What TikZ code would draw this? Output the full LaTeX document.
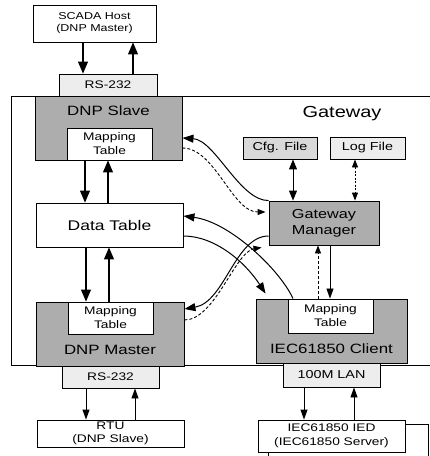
\documentclass[tikz,border=0pt]{standalone}
\usepackage{fontspec}
\setmainfont[FakeStretch=1.25]{Liberation Sans}
\usetikzlibrary{arrows.meta}
\definecolor{shade}{gray}{0.68}
\definecolor{light}{gray}{0.93}
\definecolor{cfgc}{gray}{0.85}
\newcommand{\fs}[2]{\fontsize{#1}{#2}\selectfont}
\begin{document}
\begin{tikzpicture}[x=1pt,y=-1pt,
  box/.style={draw, line width=0.9pt, inner sep=0pt, align=center},
  lbl/.style={inner sep=0pt, align=center},
  arr/.style={line width=1.1pt, -{Triangle[length=12pt,width=10pt]}},
  sarr/.style={line width=0.9pt, -{Triangle[length=10pt,width=7pt]}},
  darr/.style={line width=0.9pt, dash pattern=on 3pt off 2pt, -{Triangle[length=8pt,width=6pt]}},
  carr/.style={line width=1pt, -{Triangle[length=11pt,width=8pt]}}]
\useasboundingbox (0,0) rectangle (430,456);
% gateway frame
\draw[line width=1pt] (430,96) -- (11,96) -- (11,365) -- (430,365);
\node[lbl, font=\fs{16}{18}] (gwlabel) at (342,114) {Gateway};
% left column
\node[box, fill=white, minimum width=123pt, minimum height=37pt, font=\fs{10}{12}] (scada) at (94.5,23.5) {SCADA Host\\(DNP Master)};
\node[box, fill=light, minimum width=98pt, minimum height=22pt, font=\fs{11}{13}] (rs1) at (108,85) {RS-232};
\node[box, fill=shade, minimum width=147pt, minimum height=64pt] (slave) at (108.5,128) {};
\node[lbl, font=\fs{13.5}{15}] (slavelbl) at (108.5,111) {DNP Slave};
\node[box, fill=white, minimum width=85pt, minimum height=32pt, font=\fs{11}{14}] (map1) at (109.5,144) {Mapping\\Table};
\node[box, fill=white, minimum width=147pt, minimum height=44pt, font=\fs{14}{16}] (data) at (109.5,225) {Data Table};
\node[box, fill=shade, minimum width=148pt, minimum height=64pt] (master) at (110,334) {};
\node[lbl, font=\fs{13.5}{15}] (masterlbl) at (110,350) {DNP Master};
\node[box, fill=white, minimum width=85pt, minimum height=32pt, font=\fs{11}{14}] (map2) at (110.5,318) {Mapping\\Table};
\node[box, fill=light, minimum width=97pt, minimum height=22pt, font=\fs{11}{13}] (rs2) at (110.5,377) {RS-232};
\node[box, fill=white, minimum width=147pt, minimum height=27pt, font=\fs{11}{13}] (rtu) at (110.5,433.5) {RTU\\(DNP Slave)};
% right column
\node[box, fill=cfgc, minimum width=74pt, minimum height=22pt, font=\fs{11.5}{13}] (cfg) at (280,148) {Cfg. File};
\node[box, fill=light, minimum width=75pt, minimum height=22pt, font=\fs{11.5}{13}] (log) at (367.5,148) {Log File};
\node[box, fill=shade, minimum width=110pt, minimum height=44pt, font=\fs{13}{16}] (mgr) at (324,223) {Gateway\\Manager};
\node[box, fill=shade, minimum width=151pt, minimum height=64pt] (client) at (331.5,331) {};
\node[lbl, font=\fs{13.5}{15}] (clientlbl) at (331.5,349) {IEC61850 Client};
\node[box, fill=white, minimum width=85pt, minimum height=34pt, font=\fs{11}{14}] (map3) at (330.5,316) {Mapping\\Table};
\node[box, fill=light, minimum width=97pt, minimum height=24pt, font=\fs{11.5}{13}] (lan) at (331.5,375) {100M LAN};
\node[box, fill=white, minimum width=160pt, minimum height=36pt] (iedback) at (348,442) {};
\node[box, fill=white, minimum width=147pt, minimum height=32pt, font=\fs{11}{14}] (ied) at (331.5,436) {IEC61850 IED\\(IEC61850 Server)};
% straight arrows
\draw[arr] (scada.south -| 83,0) -- (rs1.north -| 83,0);
\draw[arr] (rs1.north -| 133,0) -- (scada.south -| 133,0);
\draw[arr] (slave.south -| 85,0) -- (data.north -| 85,0);
\draw[arr] (data.north -| 108,0) -- (slave.south -| 108,0);
\draw[arr] (data.south -| 86,0) -- (master.north -| 86,0);
\draw[arr] (master.north -| 109,0) -- (data.south -| 109,0);
\draw[sarr] (rs2.south -| 86,0) -- (rtu.north -| 86,0);
\draw[sarr] (rtu.north -| 135,0) -- (rs2.south -| 135,0);
\draw[sarr] (lan.south -| 304,0) -- (ied.north -| 304,0);
\draw[sarr] (ied.north -| 354,0) -- (lan.south -| 354,0);
\draw[line width=1pt, {Triangle[length=10pt,width=8pt]}-{Triangle[length=10pt,width=8pt]}] (cfg.south -| 293,0) -- (mgr.north -| 293,0);
\draw[line width=0.9pt, dash pattern=on 2pt off 1.5pt, {Triangle[length=8pt,width=6pt]}-{Triangle[length=8pt,width=6pt]}] (log.south -| 355,0) -- (mgr.north -| 355,0);
\draw[sarr, line width=0.8pt] (mgr.south -| 330,0) -- (client.north -| 330,0);
\draw[darr] (client.north -| 318,0) -- (mgr.south -| 318,0);
% curved connectors
\draw[carr] (mgr.north west) .. controls (240,201) and (215,140) .. (slave.east |- 0,138);
\draw[darr] (slave.east |- 0,148) .. controls (215,148) and (232,212) .. ([xshift=-3pt]mgr.west |- 0,212);
\draw[carr] (client.north -| 293,0) .. controls (280,270) and (230,222) .. (data.east |- 0,216);
\draw[carr] (data.east |- 0,236) .. controls (215,236) and (245,262) .. ([xshift=10pt,yshift=5pt]client.north west);
\draw[carr] (mgr.west |- 0,236) .. controls (235,236) and (225,302) .. (master.east |- 0,309);
\draw[darr] (master.east |- 0,320) .. controls (215,320) and (235,252) .. ([xshift=-7pt,yshift=-2pt]mgr.south west);
\end{tikzpicture}
\end{document}
